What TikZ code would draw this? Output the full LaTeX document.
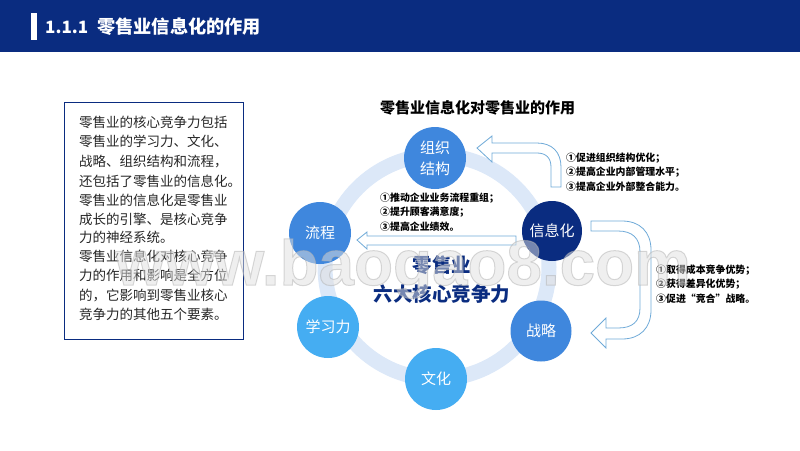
\documentclass[tikz,border=0pt]{standalone}
\usepackage{fontspec}
\setmainfont{Noto Sans CJK SC}
\newfontfamily\wmfont{Liberation Sans}
\definecolor{navy}{HTML}{0A2C80}
\definecolor{midblue}{HTML}{3F87DD}
\definecolor{skyblue}{HTML}{45ADF2}
\definecolor{ringblue}{HTML}{DCE8F8}
\definecolor{arrowline}{HTML}{6FAAD8}
\tikzset{
 disc/.style={circle,minimum size=#1,inner sep=0pt,text=white,font=\fontsize{15}{20}\selectfont,align=center},
 points/.style={anchor=west,align=left,inner sep=0pt,text=black,font=\fontsize{9.9}{14.4}\selectfont\bfseries},
 bigarrow/.style={draw=arrowline,fill=white,line width=0.8pt,line join=miter},
 bodyline/.style={anchor=base west,inner sep=0pt,text=black!85,font=\fontsize{13.5}{16}\selectfont},
}
\begin{document}
\begin{tikzpicture}[x=1pt,y=-1pt]
\useasboundingbox (0,0) rectangle (800,450);
\fill[navy] (0,0) rectangle (800,52);
\fill[white] (31,13) rectangle (37,40);
\node[anchor=base west,inner sep=0pt,text=white,font=\fontsize{17}{20}\selectfont\bfseries] (head) at (45,33) {1.1.1};
\node[anchor=base west,inner sep=0pt,text=white,font=\fontsize{18.2}{20}\selectfont\bfseries] (headcn) at (97,33) {零售业信息化的作用};
% left box
\node[draw=navy,line width=1pt,minimum width=179pt,minimum height=237pt,inner sep=0pt] (box) at (153.5,220.5) {};
\foreach \t/\yy in {零售业的核心竞争力包括/127,零售业的学习力、文化、/146.5,战略、组织结构和流程，/166,还包括了零售业的信息化。/186,零售业的信息化是零售业/205,成长的引擎、是核心竞争/224,力的神经系统。/242.5,零售业信息化对核心竞争/261,力的作用和影响是全方位/280.5,的，它影响到零售业核心/300,竞争力的其他五个要素。/319.5}
  \node[bodyline] at (79,\yy) {\t};
% title
\node[anchor=center,inner sep=0pt,text=black,font=\fontsize{15}{18}\selectfont\bfseries] (title) at (477.5,107.5) {零售业信息化对零售业的作用};
% ring
\draw[ringblue,line width=15pt] (437,267) circle[radius=112];
% discs
\node[disc=62pt,fill=midblue] (org) at (435,158) {组织\\[1pt]结构};
\node[disc=62pt,fill=midblue] (flow) at (320,233) {流程};
\node[disc=60pt,fill=navy] (info) at (552,231) {信息化};
\node[disc=61pt,fill=midblue] (strat) at (541,331) {战略};
\node[disc=62pt,fill=skyblue] (cult) at (436,379) {文化};
\node[disc=62pt,fill=skyblue] (learn) at (328,327) {学习力};
% arrows
\draw[bigarrow] (477,148) -- (492,136) -- (492,143) -- (537,143) .. controls (552,143) and (561,152) .. (561,167) -- (561,187) -- (551,187) -- (551,167) .. controls (551,158) and (546,153) .. (537,153) -- (492,153) -- (492,162) -- cycle;
\draw[bigarrow] (591,221) -- (622,221) .. controls (640,221) and (651,232) .. (651,250) -- (651,310) .. controls (651,328) and (640,339) .. (622,339) -- (606,339) -- (606,348) -- (591,333) -- (606,318) -- (606,328) -- (618,328) .. controls (632,328) and (640,322) .. (640,308) -- (640,252) .. controls (640,238) and (632,231) .. (618,231) -- (591,231) -- cycle;
\draw[bigarrow] (357,240) -- (367,232) -- (367,236) -- (516,236) -- (516,245) -- (367,245) -- (367,249) -- cycle;
% point lists
\node[points] (l1) at (380,212) {①推动企业业务流程重组；\\②提升顾客满意度；\\③提高企业绩效。};
\node[points] (l2) at (566,172) {①促进组织结构优化；\\②提高企业内部管理水平；\\③提高企业外部整合能力。};
\node[points] (l3) at (656,284) {①取得成本竞争优势；\\②获得差异化优势；\\③促进“竞合”战略。};
% centre
\node[inner sep=0pt,text=navy,font=\fontsize{19.5}{29}\selectfont\bfseries,align=center] (core) at (442,279.5) {零售业\\六大核心竞争力};
% watermark
\node[anchor=base east,inner sep=0pt,text={black!12},opacity=0.5,font=\wmfont\fontsize{63.8}{65}\selectfont\bfseries] (wm) at (691,285) {\special{pdf:code 0.7 G 1 w 2 Tr}www.baogao8.com\special{pdf:code 0 Tr}};
\end{tikzpicture}
\end{document}
